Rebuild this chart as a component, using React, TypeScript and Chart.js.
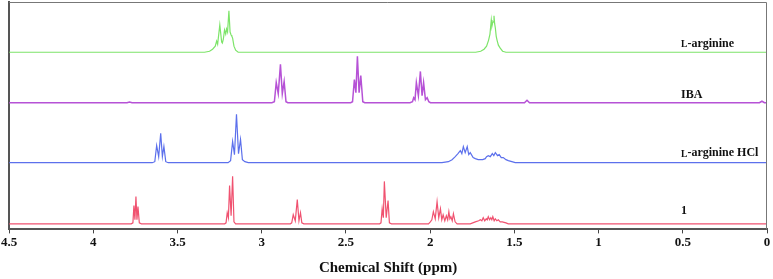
import { useEffect, useRef } from "react";
import { Chart, registerables } from "chart.js";
Chart.register(...registerables);

// x axis ticks (ppm)
const xTicks = [4.5, 4, 3.5, 3, 2.5, 2, 1.5, 1, 0.5, 0];

// trace vertical offsets (stacked spectra)
const offsets = { red: 5.5, blue: 66, purple: 125.3, green: 175.3 };

// L-arginine (green)
const greenPpm = [4.5, 3.34, 3.31, 3.292, 3.276, 3.268, 3.262, 3.249, 3.238, 3.234, 3.228, 3.221, 3.214, 3.209, 3.203, 3.195, 3.188, 3.182, 3.178, 3.173, 3.165, 3.155, 3.14,
  1.73, 1.70, 1.68, 1.665, 1.653, 1.645, 1.637, 1.633, 1.629, 1.625, 1.621, 1.617, 1.613, 1.608, 1.603, 1.595, 1.584, 1.57, 1.55, 0];
const greenInt = [0, 0, 1, 3, 6, 11, 8, 27, 10, 9, 13, 22, 18, 23, 20, 41, 20, 17, 16, 14, 6, 2, 0,
  0, 1, 3, 6, 12, 18, 32, 26, 29, 30, 36, 28, 24, 16, 12, 7, 4, 1, 0, 0];

// IBA (purple)
const purplePpm = [4.5, 3.80, 3.785, 3.77,
  2.94, 2.925, 2.914, 2.902, 2.889, 2.878, 2.867, 2.856, 2.845,
  2.472, 2.461, 2.450, 2.441, 2.432, 2.422, 2.412, 2.40, 2.388,
  2.12, 2.105, 2.098, 2.09, 2.082, 2.07, 2.058, 2.048, 2.039, 2.028, 2.018, 2.008, 1.998,
  1.44, 1.425, 1.41, 0.045, 0.03, 0.015, 0];
const purpleInt = [0, 0, 0.8, 0,
  0, 1, 20, 9, 38, 9, 21, 1, 0,
  0, 1, 23, 10, 46, 10, 27, 1, 0,
  0, 1, 5, 3, 20, 7, 31, 7, 20, 3, 5, 1, 0,
  0, 2.5, 0, 0, 1.5, 0, 0];

// L-arginine HCl (blue)
const bluePpm = [4.5, 3.65, 3.635, 3.624, 3.612, 3.600, 3.590, 3.581, 3.570, 3.555,
  3.20, 3.185, 3.173, 3.162, 3.150, 3.138, 3.126, 3.115, 3.10, 3.08,
  1.93, 1.892, 1.87, 1.851, 1.835, 1.821, 1.812, 1.803, 1.792, 1.780, 1.771, 1.762, 1.745, 1.732, 1.715, 1.702, 1.688, 1.673, 1.665, 1.655, 1.643, 1.631, 1.622, 1.613, 1.60, 1.590, 1.578, 1.566, 1.55, 1.536, 1.515, 1.495, 0];
const blueInt = [0, 0, 1, 17, 6, 29, 6, 16, 1, 0,
  0, 2, 21, 8, 48, 9, 23, 3, 1, 0,
  0, 1, 3, 6, 9, 12, 9, 16, 10, 16, 8, 10, 5, 4, 3, 3, 3, 4, 6, 7, 6, 9, 7, 10, 7, 8, 5, 5, 3, 2, 1, 0, 0];

// compound 1 (red)
const redPpm = [4.5, 3.775, 3.765, 3.759, 3.753, 3.747, 3.741, 3.735, 3.727, 3.715,
  3.22, 3.212, 3.205, 3.198, 3.191, 3.182, 3.173, 3.165, 3.155,
  2.83, 2.822, 2.813, 2.801, 2.789, 2.779, 2.770, 2.762, 2.75,
  2.30, 2.292, 2.285, 2.278, 2.272, 2.261, 2.250, 2.242, 2.23,
  2.01, 1.999, 1.990, 1.981, 1.970, 1.959, 1.949, 1.939, 1.931, 1.923, 1.913, 1.904, 1.896, 1.889, 1.883, 1.877, 1.869, 1.862, 1.852, 1.84,
  1.762, 1.732, 1.712, 1.702, 1.693, 1.685, 1.676, 1.667, 1.661, 1.655, 1.647, 1.640, 1.634, 1.628, 1.620, 1.613, 1.604, 1.595, 1.584, 1.572, 1.55, 1.536, 0];
const redInt = [0, 0, 1, 18, 4, 27, 4, 17, 1, 0,
  0, 1, 11, 6, 38, 8, 47, 2, 0,
  0, 1, 9, 3, 24, 3, 11, 1, 0,
  0, 1, 15, 6, 42, 6, 23, 1, 0,
  0, 2, 4, 12, 5, 22, 6, 15, 4, 9, 3, 8, 4, 12, 5, 7, 3, 10, 2, 0,
  0, 2, 3, 4, 3, 6, 3, 5, 4, 7, 4, 6, 4, 7, 3, 5, 3, 4, 2, 2, 1, 0, 0];

const traceLabels = ["L-arginine", "IBA", "L-arginine HCl", "1"];

const toPoints = (ppm: number[], ints: number[], off: number) =>
  ppm.map((p, i) => ({ x: p, y: off + ints[i] }));

const SERIF = '"Liberation Serif", "Times New Roman", serif';

const labelPlugin = {
  id: "frameAndLabels",
  afterDatasetsDraw(chart: any) {
    const { ctx, chartArea, scales } = chart;
    const { left, top, right, bottom } = chartArea;
    ctx.save();
    ctx.strokeStyle = "#777";
    ctx.lineWidth = 1;
    ctx.beginPath();
    ctx.moveTo(left, top + 0.5);
    ctx.lineTo(right - 0.5, top + 0.5);
    ctx.lineTo(right - 0.5, bottom);
    ctx.stroke();

    const x = scales.x;
    const y = scales.y;
    const items = [
      { text: traceLabels[0], y: offsets.green + 8.7, smallL: true },
      { text: traceLabels[1], y: offsets.purple + 7.7, smallL: false },
      { text: traceLabels[2], y: offsets.blue + 9.3, smallL: true },
      { text: traceLabels[3], y: offsets.red + 12.5, smallL: false },
    ];
    ctx.fillStyle = "#111";
    ctx.textBaseline = "middle";
    ctx.textAlign = "left";
    for (const it of items) {
      let px = x.getPixelForValue(0.51);
      const py = y.getPixelForValue(it.y);
      let rest = it.text;
      if (it.smallL) {
        ctx.font = `bold 9.5px ${SERIF}`;
        ctx.fillText("L", px, py + 1);
        px += ctx.measureText("L").width;
        rest = it.text.slice(1);
      }
      ctx.font = `bold 12px ${SERIF}`;
      ctx.fillText(rest, px, py);
    }
    ctx.restore();
  },
};

export default function App() {
  const ref = useRef<HTMLCanvasElement>(null);
  useEffect(() => {
    document.body.style.margin = "0";
    const mk = (label: string, data: any[], color: string, w: number) => ({
      label,
      data,
      borderColor: color,
      borderWidth: w,
      pointRadius: 0,
      tension: 0,
      fill: false,
    });
    const chart = new Chart(ref.current!, {
      type: "line",
      data: {
        datasets: [
          mk(traceLabels[0], toPoints(greenPpm, greenInt, offsets.green), "rgb(125,228,105)", 1.2),
          mk(traceLabels[1], toPoints(purplePpm, purpleInt, offsets.purple), "rgb(182,82,214)", 1.5),
          mk(traceLabels[2], toPoints(bluePpm, blueInt, offsets.blue), "rgb(92,112,236)", 1.2),
          mk(traceLabels[3], toPoints(redPpm, redInt, offsets.red), "rgb(240,82,112)", 1.2),
        ],
      },
      options: {
        animation: false,
        responsive: true,
        maintainAspectRatio: false,
        layout: { padding: { left: 9, right: 6, top: 2, bottom: 0 } },
        plugins: { legend: { display: false }, tooltip: { enabled: false }, title: { display: false } },
        scales: {
          x: {
            type: "linear",
            reverse: true,
            min: 0,
            max: 4.5,
            afterBuildTicks: (s: any) => {
              s.ticks = xTicks.map((v) => ({ value: v }));
            },
            ticks: {
              color: "#111",
              font: { family: SERIF, size: 13, weight: "bold" },
              padding: 1,
              maxRotation: 0,
              autoSkip: false,
              callback: (v: any) => String(v),
            },
            grid: { drawOnChartArea: false, drawTicks: true, tickLength: 4, color: "#444", lineWidth: 1 },
            border: { display: true, color: "#555", width: 2 },
            title: {
              display: true,
              text: "Chemical Shift (ppm)",
              color: "#111",
              font: { family: SERIF, size: 15, weight: "bold" },
              padding: { top: 8, bottom: 2 },
            },
          },
          y: {
            type: "linear",
            min: 0,
            max: 225,
            ticks: { display: false },
            grid: { display: false, drawTicks: false },
            border: { display: true, color: "#555", width: 2 },
          },
        },
      },
      plugins: [labelPlugin],
    } as any);
    return () => chart.destroy();
  }, []);
  return (
    <div style={{ position: "relative", width: 773, height: 279 }}>
      <canvas ref={ref} />
    </div>
  );
}
